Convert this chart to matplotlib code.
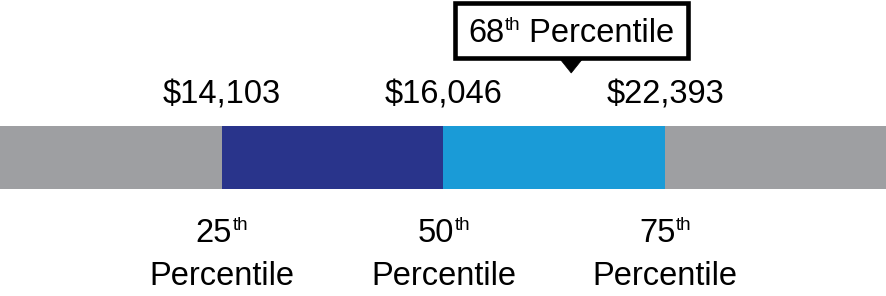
import numpy as np
import matplotlib
matplotlib.use('Agg')
import matplotlib.pyplot as plt
from matplotlib.patches import Rectangle, Polygon

plt.rcParams['font.family'] = ['Liberation Sans', 'DejaVu Sans']

# segment edges of the bar, in percentile units
seg_left = [0, 25, 50, 75]
seg_width = [25, 25, 25, 25]
seg_colors = ['#9e9fa2', '#29348b', '#1a9bd7', '#9e9fa2']

# marked percentiles and their dollar values
pct_marks = [25, 50, 75]
pct_values = ['$14,103', '$16,046', '$22,393']

# callout
callout_pct = 68
callout_pos = 64.4  # where the pointer sits on the bar

fig = plt.figure(figsize=(8.87, 2.96), dpi=100)
ax = fig.add_axes([0, 0, 1, 1])
ax.set_xlim(0, 100)
ax.set_ylim(296, 0)  # y in pixel rows, top down
ax.axis('off')

px = 100 / 887  # one pixel in x data units
fs = 23.5
sup_fs = 13.5
renderer = fig.canvas.get_renderer()


def text_w(s, size):
    # width of a string in x data units
    t = ax.text(0, 0, s, fontsize=size)
    w = t.get_window_extent(renderer).width
    t.remove()
    return w * px


def sup_label(x, y, main, sup, rest=''):
    # main text + superscript + rest, centred on x, baseline y
    w_main = text_w(main, fs)
    w_sup = text_w(sup, sup_fs)
    w_rest = text_w(rest, fs) if rest else 0
    x0 = x - (w_main + w_sup + w_rest) / 2
    ax.text(x0, y, main, ha='left', va='baseline', fontsize=fs, zorder=5)
    ax.text(x0 + w_main + 0.5 * px, y - 12, sup, ha='left', va='baseline',
            fontsize=sup_fs, zorder=5)
    if rest:
        ax.text(x0 + w_main + w_sup, y, rest, ha='left', va='baseline',
                fontsize=fs, zorder=5)


# the bar
ax.barh(157, seg_width, left=seg_left, height=63, color=seg_colors,
        edgecolor='none', align='center')

for p, v in zip(pct_marks, pct_values):
    ax.text(p, 103, v, ha='center', va='baseline', fontsize=fs, parse_math=False)
    sup_label(p, 242, str(p), 'th')
    ax.text(p, 285, 'Percentile', ha='center', va='baseline', fontsize=fs)

# callout box with pointer
box_l, box_r = 455 * px, 688 * px
ax.add_patch(Rectangle((box_l, 3), box_r - box_l, 55, facecolor='white',
                       edgecolor='black', linewidth=3.3, zorder=3))
tri = Polygon([(callout_pos - 12 * px, 58), (callout_pos + 12 * px, 58),
               (callout_pos, 73)], closed=True, facecolor='black',
              edgecolor='black', linewidth=0.5, zorder=4)
ax.add_patch(tri)
sup_label((box_l + box_r) / 2, 42, str(callout_pct), 'th', ' Percentile')

fig.savefig('out.png', dpi=100)
